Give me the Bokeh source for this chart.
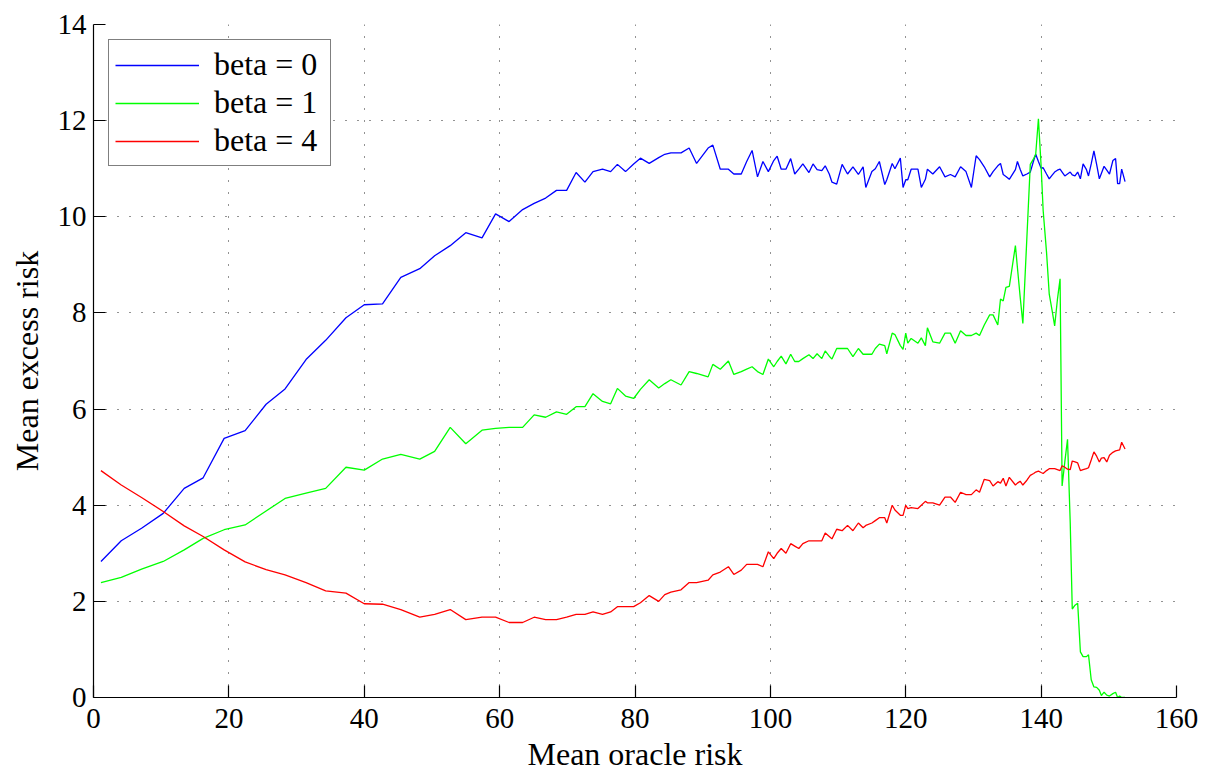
from bokeh.plotting import figure
from bokeh.models import Range1d, FixedTicker
from bokeh.embed import file_html
from bokeh.resources import INLINE

# ---------------- data ----------------
oracle_risk = [
    1.1, 4.1, 7.1, 10.3, 13.4, 16.2, 19.3, 22.4, 25.5, 28.3, 31.4, 34.3, 37.3, 40.0,
    42.7, 45.4, 48.2, 50.4, 52.7, 55.0, 57.4, 59.4, 61.4, 63.4, 65.1, 66.8, 68.4, 69.9,
    71.3, 72.6, 73.8, 75.2, 76.4, 77.4, 78.6, 79.8,
    80.8, 82.1, 83.5, 84.4, 85.3, 86.8, 88.0, 89.1, 90.8, 91.5, 92.6, 93.8, 94.6, 95.7,
    96.5, 97.3, 98.1, 98.9, 99.7, 100.5, 101.0, 101.6, 102.3, 103.0, 103.6, 104.2, 104.8,
    105.7, 106.3, 106.9, 107.6, 108.1, 108.7,
    109.1, 109.8, 110.6, 111.4, 112.2, 113.0, 113.7, 114.1, 115.0, 115.5, 116.1, 116.9,
    117.2, 118.0, 118.4, 119.2, 119.6, 120.0, 120.3, 120.8, 121.8, 122.3, 122.9, 123.2,
    124.0, 125.0, 125.8, 126.6, 127.3, 128.1, 128.9, 129.7, 130.4, 130.9, 131.6, 132.4,
    132.9, 133.6, 134.0, 134.4, 134.8, 135.3,
    136.2, 136.5, 136.9, 137.3, 137.9, 138.4, 138.9, 139.2, 139.6, 140.0, 140.3, 140.8,
    141.2, 141.6, 142.0, 142.4, 142.8, 143.1, 143.5, 143.9, 144.3, 144.6, 145.0, 145.4,
    145.8, 146.2, 146.7, 147.0, 147.4, 147.8, 148.2, 148.6, 148.9, 149.3, 149.7, 150.1,
    150.6, 151.0, 151.3, 151.6, 151.9, 152.4,
]

excess_beta0 = [
    2.83, 3.26, 3.52, 3.83, 4.35, 4.57, 5.39, 5.55, 6.10, 6.42, 7.03, 7.43, 7.90, 8.17,
    8.19, 8.74, 8.92, 9.19, 9.40, 9.67, 9.56, 10.06, 9.90, 10.15, 10.28, 10.39, 10.55, 10.55,
    10.92, 10.72, 10.94, 10.99, 10.94, 11.09, 10.94, 11.10,
    11.22, 11.11, 11.23, 11.30, 11.33, 11.33, 11.43, 11.11, 11.43, 11.49, 10.99, 10.99, 10.89,
    10.89, 11.15, 11.38, 10.83, 11.15, 10.94, 11.17, 11.26, 10.99, 10.99, 11.21, 10.89, 10.99,
    11.10, 10.92, 11.10, 10.98, 10.96, 11.06, 10.89,
    10.72, 10.68, 11.09, 10.89, 11.04, 10.88, 11.04, 10.61, 10.94, 11.00, 11.15, 10.67,
    10.77, 11.11, 11.00, 11.22, 10.61, 10.77, 10.77, 10.99, 10.99, 10.61, 10.78, 10.99,
    10.89, 11.04, 10.83, 10.88, 10.83, 11.04, 10.94, 10.61, 11.27, 11.19, 11.04, 10.83,
    10.94, 11.06, 11.11, 10.88, 10.84, 10.78,
    10.98, 11.15, 10.99, 10.85, 10.89, 10.93, 11.17, 11.30, 11.15, 11.01, 11.02, 10.89,
    10.79, 10.86, 10.93, 10.97, 10.99, 10.93, 10.85, 10.89, 10.93, 10.87, 10.85, 10.93,
    10.79, 11.10, 10.98, 10.85, 11.10, 11.37, 11.09, 10.79, 10.90, 11.05, 10.97, 10.89,
    11.17, 11.21, 10.69, 10.69, 10.99, 10.73,
]

excess_beta1 = [
    2.39, 2.50, 2.67, 2.83, 3.07, 3.31, 3.49, 3.59, 3.88, 4.14, 4.25, 4.35, 4.79, 4.73,
    4.96, 5.06, 4.96, 5.12, 5.62, 5.28, 5.56, 5.60, 5.62, 5.62, 5.88, 5.83, 5.94, 5.89,
    6.05, 6.05, 6.32, 6.16, 6.11, 6.43, 6.27, 6.22,
    6.41, 6.61, 6.44, 6.53, 6.61, 6.50, 6.78, 6.74, 6.67, 6.93, 6.83, 7.00, 6.72, 6.78,
    6.83, 6.88, 6.78, 6.72, 7.04, 6.88, 6.99, 7.10, 6.94, 7.14, 6.99, 6.99, 7.05, 7.13,
    7.05, 7.15, 7.05, 7.21, 7.10,
    7.04, 7.26, 7.26, 7.26, 7.09, 7.26, 7.14, 7.14, 7.14, 7.26, 7.35, 7.32, 7.15, 7.58,
    7.55, 7.32, 7.24, 7.58, 7.37, 7.47, 7.37, 7.48, 7.32, 7.69, 7.40, 7.37, 7.58, 7.58,
    7.37, 7.63, 7.53, 7.53, 7.58, 7.53, 7.75, 7.96, 7.96, 7.75, 8.29, 8.25, 8.53, 8.55,
    9.40, 8.94, 8.34, 7.78, 9.58, 11.09, 11.21, 11.30, 12.04, 11.05, 10.13, 9.26, 8.39,
    8.07, 7.73, 8.27, 8.71, 4.40, 4.90, 5.37, 3.63, 1.84, 1.92, 1.96, 0.95, 0.85, 0.85,
    0.89, 0.37, 0.22, 0.21, 0.15, 0.04, 0.11, 0.05, 0.03, 0.08, 0.11, 0.0, 0.03, 0.0, 0.0,
]

excess_beta4 = [
    4.72, 4.42, 4.16, 3.87, 3.57, 3.35, 3.07, 2.82, 2.66, 2.55, 2.39, 2.22, 2.17, 1.95,
    1.94, 1.83, 1.67, 1.73, 1.83, 1.62, 1.67, 1.67, 1.56, 1.56, 1.67, 1.62, 1.62, 1.67,
    1.73, 1.73, 1.78, 1.73, 1.78, 1.89, 1.89, 1.89,
    1.97, 2.12, 2.00, 2.14, 2.19, 2.24, 2.39, 2.39, 2.44, 2.55, 2.61, 2.72, 2.56, 2.65,
    2.77, 2.77, 2.77, 2.72, 3.03, 2.89, 3.00, 3.10, 3.00, 3.20, 3.15, 3.10, 3.20, 3.26,
    3.26, 3.26, 3.26, 3.42, 3.35,
    3.30, 3.50, 3.47, 3.58, 3.47, 3.63, 3.53, 3.58, 3.63, 3.68, 3.74, 3.74, 3.63, 4.00,
    3.90, 3.79, 3.79, 4.00, 3.93, 3.95, 3.93, 4.00, 4.08, 4.05, 4.05, 4.00, 4.17, 4.17,
    4.06, 4.27, 4.22, 4.22, 4.32, 4.27, 4.54, 4.51, 4.40, 4.49, 4.46, 4.56, 4.40, 4.58,
    4.42, 4.46, 4.50, 4.42, 4.52, 4.62, 4.66, 4.69, 4.71, 4.68, 4.66, 4.72, 4.76, 4.76,
    4.76, 4.74, 4.72, 4.82, 4.79, 4.75, 4.74, 4.92, 4.90, 4.88, 4.72, 4.74, 4.76, 4.78,
    4.94, 5.11, 5.02, 4.90, 4.98, 4.99, 4.90, 5.04, 5.10, 5.13, 5.14, 5.15, 5.31, 5.17,
]

series_labels = ["beta = 0", "beta = 1", "beta = 4"]
series_colors = ["#0000ff", "#00ff00", "#ff0000"]
x_ticks = [0, 20, 40, 60, 80, 100, 120, 140, 160]
y_ticks = [0, 2, 4, 6, 8, 10, 12, 14]
x_title = "Mean oracle risk"
y_title = "Mean excess risk"

FONT = "Liberation Serif"

p = figure(width=1200, height=774, output_backend="svg", toolbar_location=None,
           x_range=Range1d(0, 160), y_range=Range1d(0, 14),
           min_border_left=93, min_border_right=24, min_border_top=24,
           min_border_bottom=77)

for ys, lab, col in zip([excess_beta0, excess_beta1, excess_beta4], series_labels, series_colors):
    p.line(oracle_risk, ys, line_color=col, line_width=1.3, legend_label=lab)

p.outline_line_color = None
p.background_fill_color = "white"
p.border_fill_color = "white"

for ax, ticks in ((p.xaxis[0], x_ticks), (p.yaxis[0], y_ticks)):
    ax.ticker = FixedTicker(ticks=ticks)
    ax.major_tick_in = 12
    ax.major_tick_out = 0
    ax.minor_tick_line_color = None
    ax.axis_line_color = "black"
    ax.axis_line_width = 1.2
    ax.major_tick_line_color = "black"
    ax.major_tick_line_width = 1.2
    ax.major_label_text_font = FONT
    ax.major_label_text_font_size = "29px"
    ax.major_label_text_color = "black"
    ax.axis_label_text_font = FONT
    ax.axis_label_text_font_size = "32px"
    ax.axis_label_text_font_style = "normal"
    ax.axis_label_text_color = "black"

p.xaxis.axis_label = x_title
p.yaxis.axis_label = y_title
p.xaxis.major_label_standoff = 11
p.yaxis.major_label_standoff = 7
p.xaxis.axis_label_standoff = 5
p.yaxis.axis_label_standoff = 10

for g, ticks in ((p.xgrid[0], x_ticks), (p.ygrid[0], y_ticks)):
    g.ticker = FixedTicker(ticks=ticks)
    g.grid_line_color = "black"
    g.grid_line_alpha = 0.85
    g.grid_line_width = 1
    g.grid_line_dash = "1 11"

lg = p.legend[0]
lg.location = "top_left"
lg.margin = 15
lg.border_line_color = "black"
lg.border_line_width = 1.3
lg.background_fill_color = "white"
lg.background_fill_alpha = 1
lg.label_text_font = FONT
lg.label_text_font_size = "32px"
lg.label_text_color = "black"
lg.glyph_width = 84
lg.glyph_height = 20
lg.label_width = 110
lg.label_standoff = 15
lg.padding = 6
lg.spacing = 1

open("out.html", "w").write(file_html(p, INLINE))
